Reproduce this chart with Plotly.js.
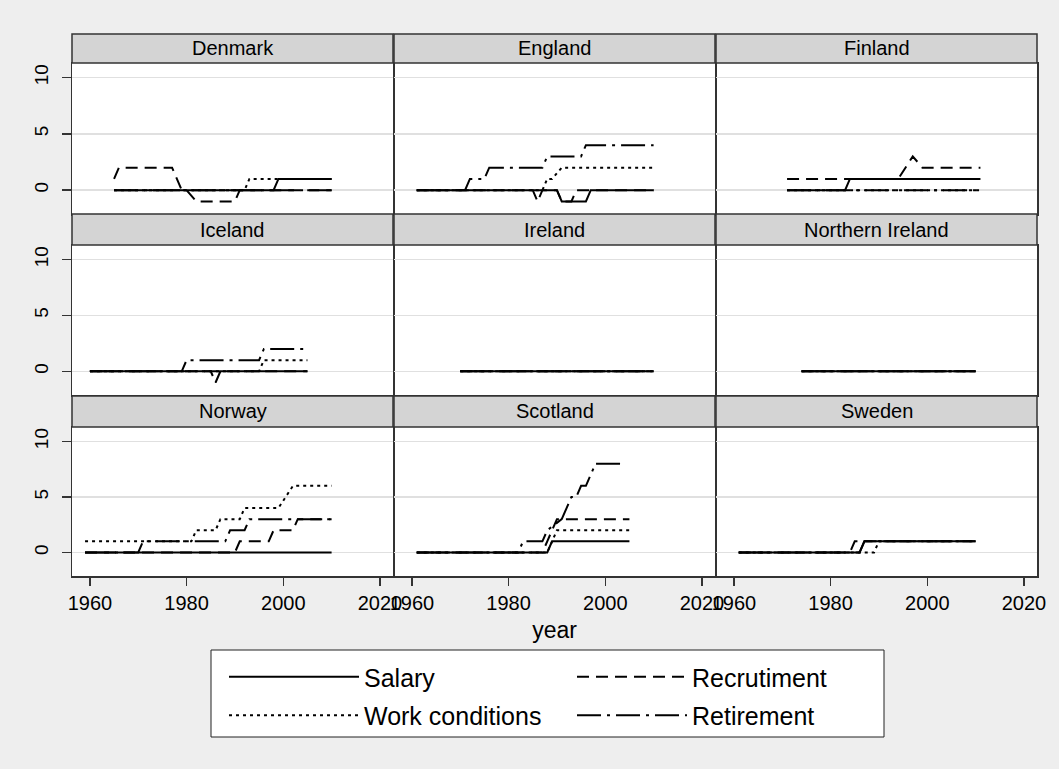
<!DOCTYPE html>
<html><head><meta charset="utf-8">
<script src="https://cdn.plot.ly/plotly-3.0.1.min.js"></script>
<style>html,body{margin:0;padding:0;background:#eeeeee;}#chart{width:1059px;height:769px;}</style>
</head><body><div id="chart"></div>
<script>
// ---------- DATA ----------
const countries = ['Denmark','England','Finland','Iceland','Ireland','Northern Ireland','Norway','Scotland','Sweden'];
const seriesNames = ['Salary','Recrutiment','Work conditions','Retirement'];
const xTicks = [1960,1980,2000,2020];
const yTicks = [0,5,10];

// Denmark
const dkSalaryX = [1965,1998,1999,2010];            const dkSalaryY = [0,0,1,1];
const dkRecruitX = [1965,1966,1977,1979,1980,1982,1990,1991,2010]; const dkRecruitY = [1,2,2,0,0,-1,-1,0,0];
const dkWorkX = [1965,1992,1993,2010];              const dkWorkY = [0,0,1,1];
const dkRetireX = [1965,2010];                      const dkRetireY = [0,0];
// England
const enSalaryX = [1961,1990,1991,1996,1997,2010];  const enSalaryY = [0,0,-1,-1,0,0];
const enRecruitX = [1961,1985,1986,1987,1990,1991,1993,1994,2010]; const enRecruitY = [0,0,-1,0,0,-1,-1,0,0];
const enWorkX = [1961,1987,1988,1989,1991,2010];    const enWorkY = [0,0,1,1,2,2];
const enRetireX = [1961,1971,1972,1975,1976,1987,1988,1995,1996,2010]; const enRetireY = [0,0,1,1,2,2,3,3,4,4];
// Finland
const fiSalaryX = [1971,1983,1984,2011];            const fiSalaryY = [0,0,1,1];
const fiRecruitX = [1971,1994,1997,1999,2011];      const fiRecruitY = [1,1,3,2,2];
const fiWorkX = [1971,2011];                        const fiWorkY = [0,0];
const fiRetireX = [1971,2011];                      const fiRetireY = [0,0];
// Iceland
const isSalaryX = [1960,2005];                      const isSalaryY = [0,0];
const isRecruitX = [1960,1985,1986,1987,2005];      const isRecruitY = [0,0,-1,0,0];
const isWorkX = [1960,1995,1996,2005];              const isWorkY = [0,0,1,1];
const isRetireX = [1960,1979,1980,1995,1996,2005];  const isRetireY = [0,0,1,1,2,2];
// Ireland
const ieSalaryX = [1970,2010];  const ieSalaryY = [0,0];
const ieRecruitX = [1970,2010]; const ieRecruitY = [0,0];
const ieWorkX = [1970,2010];    const ieWorkY = [0,0];
const ieRetireX = [1970,2010];  const ieRetireY = [0,0];
// Northern Ireland
const niSalaryX = [1974,2010];  const niSalaryY = [0,0];
const niRecruitX = [1974,2010]; const niRecruitY = [0,0];
const niWorkX = [1974,2010];    const niWorkY = [0,0];
const niRetireX = [1974,2010];  const niRetireY = [0,0];
// Norway
const noSalaryX = [1959,2010];                      const noSalaryY = [0,0];
const noRecruitX = [1959,1990,1991,1997,1998,2002,2003,2010]; const noRecruitY = [0,0,1,1,2,2,3,3];
const noWorkX = [1959,1981,1982,1986,1987,1991,1992,1999,2002,2010]; const noWorkY = [1,1,2,2,3,3,4,4,6,6];
const noRetireX = [1959,1970,1971,1988,1989,1991,1992,1993,2010]; const noRetireY = [0,0,1,1,2,2,2,3,3];
// Scotland
const scSalaryX = [1961,1988,1989,2005];            const scSalaryY = [0,0,1,1];
const scRecruitX = [1961,1987,1988,1989,1990,2005]; const scRecruitY = [0,0,1,2,3,3];
const scWorkX = [1961,1988,1990,2005];              const scWorkY = [0,0,2,2];
const scRetireX = [1961,1982,1983,1987,1988,1991,1992,1993,1994,1995,1996,1997,1998,2004]; const scRetireY = [0,0,1,1,2,3,4,5,5,6,6,7,8,8];
// Sweden
const seSalaryX = [1961,1986,1987,2010];            const seSalaryY = [0,0,1,1];
const seRecruitX = [1961,1984,1985,2010];           const seRecruitY = [0,0,1,1];
const seWorkX = [1961,1989,1990,2010];              const seWorkY = [0,0,1,1];
const seRetireX = [1961,1986,1987,2010];            const seRetireY = [0,0,1,1];

const panelData = [
  [[dkSalaryX,dkSalaryY],[dkRecruitX,dkRecruitY],[dkWorkX,dkWorkY],[dkRetireX,dkRetireY]],
  [[enSalaryX,enSalaryY],[enRecruitX,enRecruitY],[enWorkX,enWorkY],[enRetireX,enRetireY]],
  [[fiSalaryX,fiSalaryY],[fiRecruitX,fiRecruitY],[fiWorkX,fiWorkY],[fiRetireX,fiRetireY]],
  [[isSalaryX,isSalaryY],[isRecruitX,isRecruitY],[isWorkX,isWorkY],[isRetireX,isRetireY]],
  [[ieSalaryX,ieSalaryY],[ieRecruitX,ieRecruitY],[ieWorkX,ieWorkY],[ieRetireX,ieRetireY]],
  [[niSalaryX,niSalaryY],[niRecruitX,niRecruitY],[niWorkX,niWorkY],[niRetireX,niRetireY]],
  [[noSalaryX,noSalaryY],[noRecruitX,noRecruitY],[noWorkX,noWorkY],[noRetireX,noRetireY]],
  [[scSalaryX,scSalaryY],[scRecruitX,scRecruitY],[scWorkX,scWorkY],[scRetireX,scRetireY]],
  [[seSalaryX,seSalaryY],[seRecruitX,seRecruitY],[seWorkX,seWorkY],[seRetireX,seRetireY]]
];

// ---------- STYLE / LAYOUT ----------
const W = 1059, H = 769;
const FONT = 'Liberation Sans, Arial, Helvetica, sans-serif';
const dashes = ['solid', '12px,7px', '3px,4px', '24px,6px,3px,6px'];
const legendOf = ['legend', 'legend2', 'legend', 'legend2'];
const colX = [[72,393],[394,715],[716,1037]];
const rowPlot = [[63,214],[245,395],[427,576]];
const rowStrip = [[34,63],[214,245],[396,427]];
const drawOrder = [0,2,1,3];

const legendCommon = {
  xanchor: 'left', yanchor: 'top', orientation: 'v',
  bgcolor: 'rgba(0,0,0,0)', borderwidth: 0,
  font: {size: 25, family: FONT, color: '#000'},
  traceorder: 'grouped', tracegroupgap: 3
};

const traces = [];
const layout = {
  width: W, height: H,
  margin: {l:0, r:0, t:0, b:0},
  paper_bgcolor: '#eeeeee',
  plot_bgcolor: '#ffffff',
  font: {family: FONT, color: '#000'},
  showlegend: true,
  legend: Object.assign({}, legendCommon, {x: 224/W, y: 1 - 654/H, itemwidth: 130}),
  legend2: Object.assign({}, legendCommon, {x: 572/W, y: 1 - 654/H, itemwidth: 110}),
  shapes: [{
    type: 'rect', xref: 'paper', yref: 'paper',
    x0: 211/W, x1: 884/W, y0: 1 - 737/H, y1: 1 - 650/H,
    fillcolor: '#ffffff', line: {color: '#222', width: 1}, layer: 'above'
  }],
  annotations: []
};

for (let r = 0; r < 3; r++) {
  for (let c = 0; c < 3; c++) {
    const i = r*3 + c, n = i + 1;
    const xa = 'xaxis' + (n === 1 ? '' : n), ya = 'yaxis' + (n === 1 ? '' : n);
    const xr = 'x' + (n === 1 ? '' : n), yr = 'y' + (n === 1 ? '' : n);
    layout[xa] = {
      domain: [colX[c][0]/W, colX[c][1]/W], anchor: yr,
      range: [1956.3, 2022.7], showgrid: false, zeroline: false,
      showline: true, mirror: true, linecolor: '#333', linewidth: 1.5,
      tickvals: xTicks, ticks: r === 2 ? 'outside' : '', ticklen: 8, tickwidth: 1.5, tickcolor: '#333',
      showticklabels: r === 2, tickfont: {size: 20, family: FONT, color: '#000'}
    };
    layout[ya] = {
      domain: [1 - rowPlot[r][1]/H, 1 - rowPlot[r][0]/H], anchor: xr,
      range: [-2.12, 11.3], tickvals: yTicks, showgrid: true, gridcolor: '#e0e0e0', gridwidth: 1.5,
      zeroline: false, showline: true, mirror: true, linecolor: '#333', linewidth: 1.5,
      ticks: c === 0 ? 'outside' : '', ticklen: 9, tickwidth: 1.5, tickcolor: '#333',
      showticklabels: c === 0, tickangle: -90, ticklabelstandoff: 6,
      tickfont: {size: 19, family: FONT, color: '#000'}
    };
    layout.shapes.push({
      type: 'rect', xref: 'paper', yref: 'paper',
      x0: colX[c][0]/W, x1: colX[c][1]/W, y0: 1 - rowStrip[r][1]/H, y1: 1 - rowStrip[r][0]/H,
      fillcolor: '#d4d4d4', line: {color: '#333', width: 1.5}, layer: 'above'
    });
    layout.annotations.push({
      xref: 'paper', yref: 'paper', showarrow: false,
      x: (colX[c][0] + colX[c][1]) / 2 / W, y: 1 - (rowStrip[r][0] + rowStrip[r][1]) / 2 / H,
      xanchor: 'center', yanchor: 'middle', text: countries[i],
      font: {size: 20, family: FONT, color: '#000'}
    });
    for (const s of drawOrder) {
      traces.push({
        type: 'scatter', mode: 'lines',
        x: panelData[i][s][0], y: panelData[i][s][1],
        xaxis: xr, yaxis: yr,
        name: seriesNames[s], legendgroup: seriesNames[s], legend: legendOf[s], legendrank: s + 1,
        showlegend: i === 0, hoverinfo: 'skip',
        line: {color: '#000', width: 2, dash: dashes[s]}
      });
    }
  }
}
layout.xaxis8.title = {text: 'year', font: {size: 23, family: FONT, color: '#000'}, standoff: 9};

Plotly.newPlot('chart', traces, layout, {staticPlot: true, displayModeBar: false});
</script></body></html>
